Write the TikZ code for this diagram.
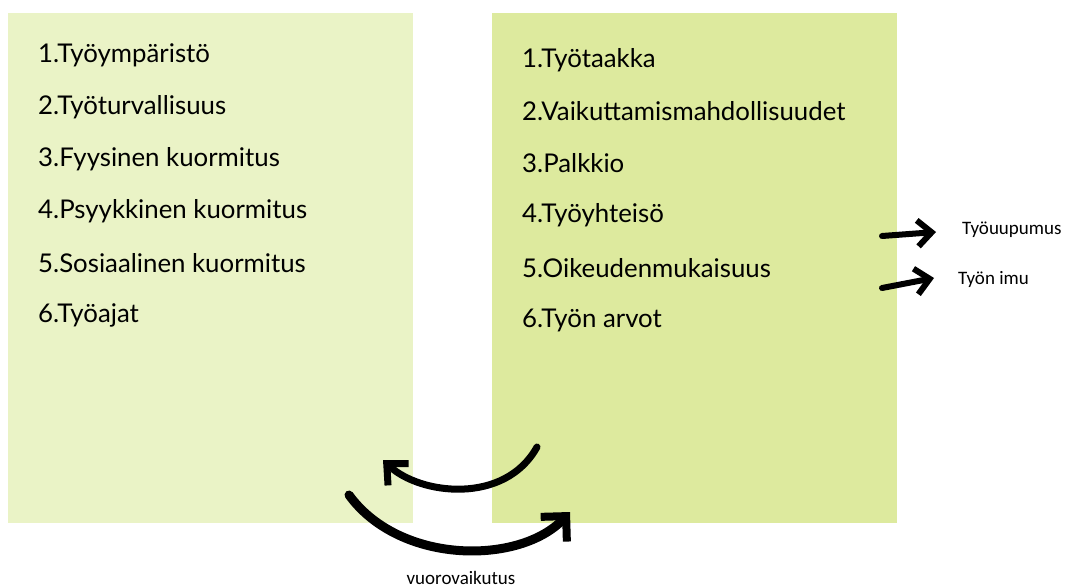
\documentclass[tikz,border=0pt]{standalone}
\usepackage{fontspec}
\setmainfont{Lato}
\newfontfamily\calfont{Carlito}
\usetikzlibrary{arrows.meta}
\definecolor{leftgreen}{HTML}{EAF3C6}
\definecolor{rightgreen}{HTML}{DDEA9E}
\begin{document}
\begin{tikzpicture}[x=1pt,y=-1pt,
  item/.style={anchor=west,inner sep=0pt,font=\fontsize{25.8}{28}\selectfont},
  side/.style={anchor=west,inner sep=0pt,font=\calfont\fontsize{19}{22}\selectfont},
  brush/.style={line cap=round,-{Straight Barb[length=14pt,width=26pt,line width=6pt]}},
]
\useasboundingbox (0,0) rectangle (1067,588);
\fill[leftgreen] (8,13) rectangle (413,523);
\fill[rightgreen] (492,13) rectangle (897,523);
\node[item] (l1) at (38,55) {1.Työympäristö};
\node[item] (l2) at (38,107) {2.Työturvallisuus};
\node[item] (l3) at (38,159) {3.Fyysinen kuormitus};
\node[item] (l4) at (38,211) {4.Psyykkinen kuormitus};
\node[item] (l5) at (38,263) {5.Sosiaalinen kuormitus};
\node[item] (l6) at (38,315) {6.Työajat};
\node[item] (r1) at (522,60) {1.Työtaakka};
\node[item] (r2) at (522,111) {2.Vaikuttamismahdollisuudet};
\node[item] (r3) at (522,163) {3.Palkkio};
\node[item] (r4) at (522,215) {4.Työyhteisö};
\node[item] (r5) at (522,268) {5.Oikeudenmukaisuus};
\node[item] (r6) at (522,320) {6.Työn arvot};
\node[side] (uup) at (962,230) {Työuupumus};
\node[side] (imu) at (958,279) {Työn imu};
\node[side,anchor=center] (vuo) at (461,578) {vuorovaikutus};
\coordinate (a1s) at (882,236);
\coordinate (a2s) at (882,288);
\draw[brush,line width=6pt] (a1s) -- ([xshift=-26pt,yshift=-2pt]uup.west);
\draw[brush,line width=6pt] (a2s) -- ([xshift=-24pt,yshift=1pt]imu.west);
\coordinate (u1) at (537,447);
\coordinate (u2) at (383,460);
\coordinate (b1) at (349,495);
\coordinate (b2) at (570,512);
\draw[line cap=round,line width=7pt,-{Straight Barb[length=16pt,width=30pt,line width=7pt]}] (u1) .. controls (505,505) and (420,495) .. (u2);
\draw[line cap=round,line width=9pt,-{Straight Barb[length=18pt,width=36pt,line width=8pt]}] (b1) .. controls (400,565) and (520,565) .. (b2);
\end{tikzpicture}
\end{document}
